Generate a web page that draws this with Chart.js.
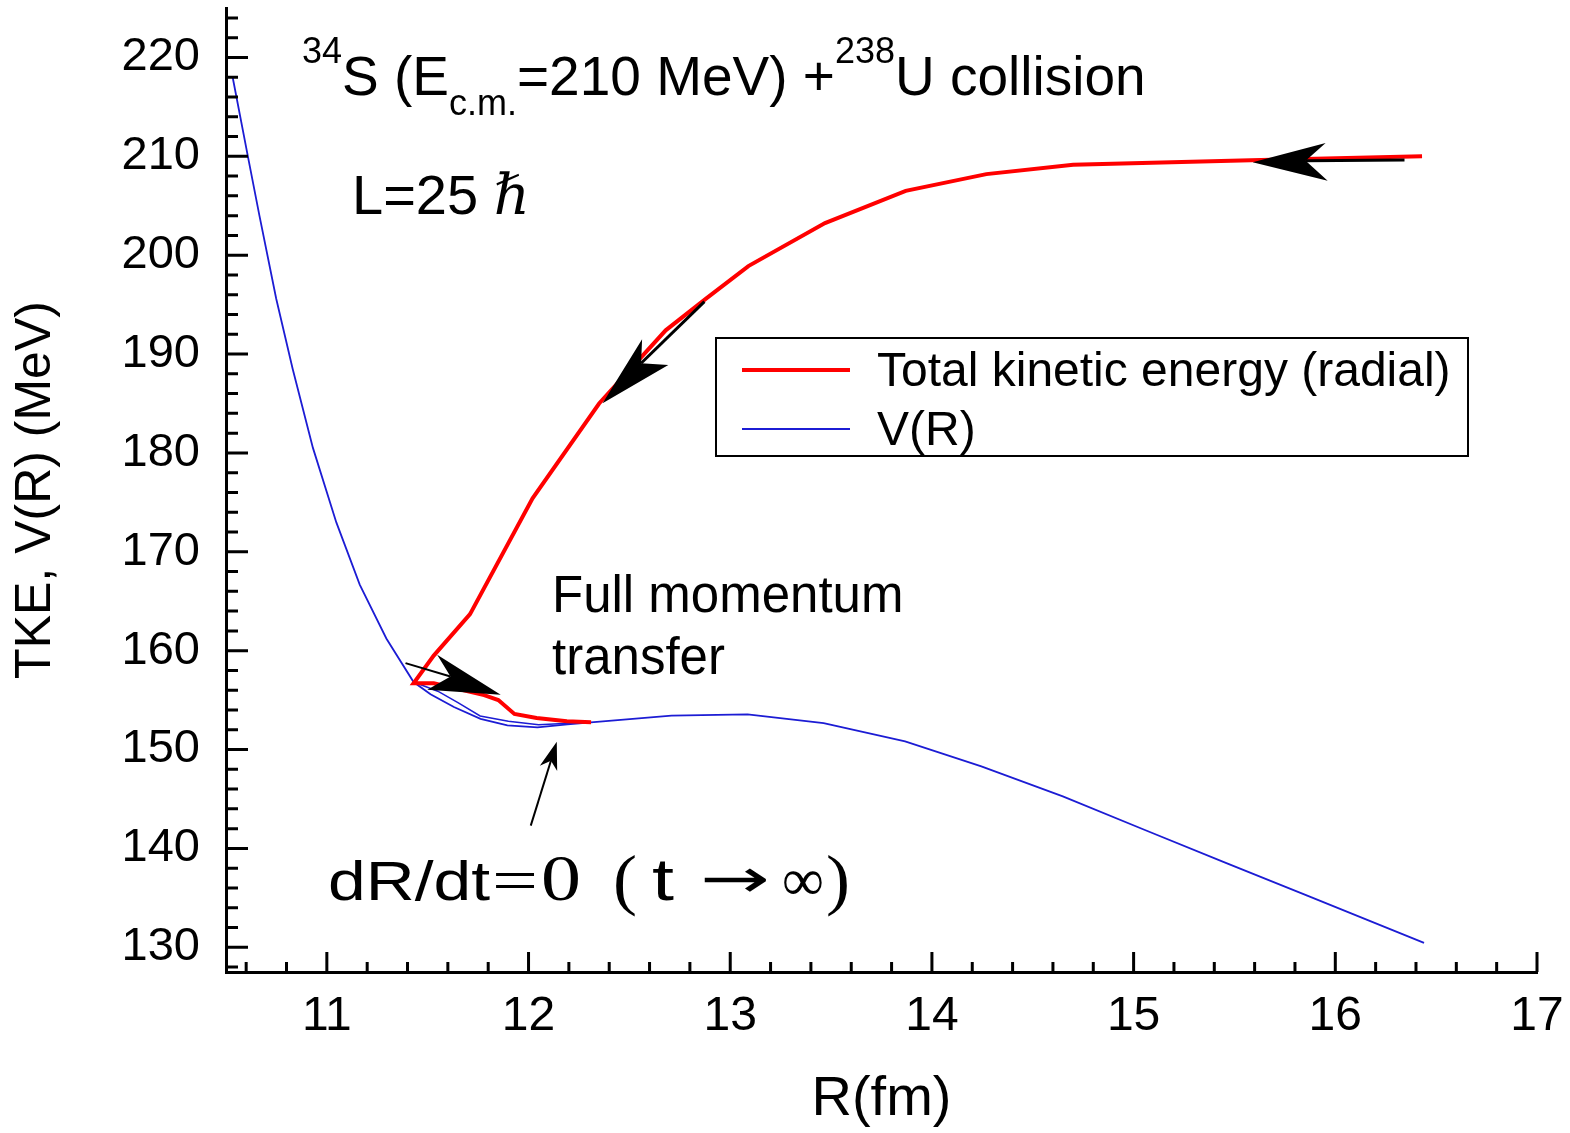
<!DOCTYPE html>
<html><head><meta charset="utf-8">
<script src="https://cdn.jsdelivr.net/npm/chart.js@4.4.1/dist/chart.umd.min.js"></script>
<style>html,body{margin:0;padding:0;background:#fff;}#wrap{width:1570px;height:1133px;}</style>
</head><body><div id="wrap"><canvas id="c" width="1570" height="1133"></canvas></div>
<script>
// ---- data ----
const seriesNames = ['Total kinetic energy (radial)', 'V(R)'];
const tkeR = [16.43, 15.58, 14.70, 14.27, 13.87, 13.47, 13.09, 12.88, 12.68, 12.35, 12.02, 11.71, 11.53, 11.43, 11.53, 11.78, 11.85, 11.93, 12.04, 12.19, 12.31];
const tkeE = [210.0, 209.6, 209.15, 208.2, 206.5, 203.25, 198.9, 195.6, 192.4, 185.0, 175.4, 163.7, 159.5, 156.7, 156.7, 155.5, 155.0, 153.6, 153.2, 152.85, 152.75];
const vR = [10.533, 10.608, 10.666, 10.749, 10.831, 10.931, 11.047, 11.163, 11.295, 11.43, 11.514, 11.63, 11.762, 11.895, 12.044, 12.193, 12.309, 12.709, 13.086, 13.463, 13.867, 14.245, 14.649, 15.053, 15.457, 15.861, 16.44];
const vE = [218.0, 210.05, 203.98, 195.59, 188.47, 180.51, 172.97, 166.68, 161.23, 156.83, 155.6, 154.3, 153.1, 152.45, 152.25, 152.55, 152.74, 153.42, 153.55, 152.68, 150.82, 148.29, 145.26, 141.89, 138.53, 135.22, 130.44];
const vBranchR = [11.43, 11.55, 11.65, 11.76, 11.90, 12.05, 12.20, 12.31];
const vBranchE = [156.83, 155.9, 154.75, 153.4, 152.85, 152.5, 152.65, 152.74];
const xTickLabels = [11, 12, 13, 14, 15, 16, 17];
const yTickLabels = [130, 140, 150, 160, 170, 180, 190, 200, 210, 220];

// ---- annotation arrows (data units) ----
const arrowList = [
  {tip:[15.590,209.39], b1:[15.952,211.34], notch:[15.853,209.55], b2:[15.962,207.53], tail:[16.343,209.62], w:3},
  {tip:[12.367,185.03], b1:[12.563,191.50], notch:[12.558,189.07], b2:[12.693,188.90], tail:[12.872,195.30], w:3},
  {tip:[11.862,155.54], b1:[11.547,159.58], notch:[11.613,157.39], b2:[11.498,156.05], tail:[11.390,158.74], w:2},
  {tip:[12.140,150.79], b1:[12.142,147.82], notch:[12.111,148.86], b2:[12.056,148.36], tail:[12.011,142.30], w:2}
];

const SANS = '"Liberation Sans", Arial, Helvetica, sans-serif';
const SERIF = '"Liberation Serif", "Times New Roman", "DejaVu Serif", serif';
const RED = '#ff0000', BLUE = '#1c1cd4';

function pts(xs, ys){ return xs.map((x,i)=>({x:x, y:ys[i]})); }

function drawRuns(ctx, x, y, runs){
  let cx = x;
  runs.forEach(r=>{
    ctx.font = r.font;
    ctx.fillText(r.t, cx, y + (r.dy||0));
    cx += ctx.measureText(r.t).width + (r.gap||0);
  });
  return cx;
}
// draw text placed at x, stretched/squeezed to a given width
function fitText(ctx, t, font, x, y, w){
  ctx.save();
  ctx.font = font;
  const nat = ctx.measureText(t).width;
  ctx.translate(x, y);
  ctx.scale(w / nat, 1);
  ctx.fillText(t, 0, 0);
  ctx.restore();
}

function zeroPad(s){ s.paddingTop = 0; s.paddingBottom = 0; s.paddingLeft = 0; s.paddingRight = 0; }

const annot = {
  id:'annot',
  afterDraw(chart){
    const ctx = chart.ctx, xs = chart.scales.x, ys = chart.scales.y;
    const area = chart.chartArea;
    ctx.save();
    // inward ticks
    ctx.strokeStyle = '#000'; ctx.lineWidth = 3; ctx.lineCap='butt';
    ctx.beginPath();
    for (let i = 53; i <= 85; i++) {
      const v = i/5; const px = xs.getPixelForValue(v);
      const major = (i % 5 === 0);
      ctx.moveTo(px, area.bottom); ctx.lineTo(px, area.bottom - (major ? 20 : 10));
    }
    for (let v = 128; v <= 224; v += 2) {
      const py = ys.getPixelForValue(v);
      const major = (v % 10 === 0);
      ctx.moveTo(area.left, py); ctx.lineTo(area.left + (major ? 22 : 12), py);
    }
    ctx.stroke();

    // arrows
    ctx.fillStyle = '#000';
    arrowList.forEach(a=>{
      const P = p => [xs.getPixelForValue(p[0]), ys.getPixelForValue(p[1])];
      const t = P(a.tip), b1 = P(a.b1), n = P(a.notch), b2 = P(a.b2), tl = P(a.tail);
      ctx.lineWidth = a.w;
      ctx.beginPath(); ctx.moveTo(tl[0], tl[1]); ctx.lineTo(n[0], n[1]); ctx.stroke();
      ctx.beginPath(); ctx.moveTo(t[0],t[1]); ctx.lineTo(b1[0],b1[1]); ctx.lineTo(n[0],n[1]); ctx.lineTo(b2[0],b2[1]); ctx.closePath(); ctx.fill();
    });

    // legend
    const lx = 716, ly = 338, lw = 752, lh = 118;
    ctx.lineWidth = 2; ctx.strokeStyle = '#000';
    ctx.strokeRect(lx, ly, lw, lh);
    const ds = chart.data.datasets;
    ctx.textBaseline = 'middle'; ctx.textAlign = 'left';
    [[0, 370, 4], [1, 429, 2]].forEach(([i, yy, w])=>{
      ctx.strokeStyle = ds[i].borderColor; ctx.lineWidth = w;
      ctx.beginPath(); ctx.moveTo(742, yy); ctx.lineTo(850, yy); ctx.stroke();
      ctx.fillStyle = '#000'; ctx.font = '48px ' + SANS;
      ctx.fillText(ds[i].label, 877, yy + 3);
    });

    // texts
    ctx.fillStyle = '#000'; ctx.textBaseline = 'alphabetic'; ctx.textAlign = 'left';
    const big = '55px ' + SANS, small = '36px ' + SANS;
    drawRuns(ctx, 302, 95, [
      {t:'34', font:small, dy:-32},
      {t:'S (E', font:big},
      {t:'c.m.', font:small, dy:20},
      {t:'=210 MeV) +', font:big},
      {t:'238', font:small, dy:-32},
      {t:'U collision', font:big}
    ]);
    drawRuns(ctx, 352, 214, [
      {t:'L=25 ', font:'56px ' + SANS},
      {t:'\u210F', font:'italic 56px ' + SERIF}
    ]);
    ctx.font = '51px ' + SANS;
    ctx.fillText('Full momentum', 552, 612);
    ctx.fillText('transfer', 552, 674);

    // dR/dt = 0 (t -> infinity)
    fitText(ctx, 'dR/dt', '56px ' + SANS, 328, 900, 162);
    fitText(ctx, '=', '60px ' + SERIF, 492, 900, 46);
    fitText(ctx, '0', '66px ' + SERIF, 541, 900, 40);
    fitText(ctx, '(', '68px ' + SERIF, 613, 902, 24);
    fitText(ctx, 't', '60px ' + SANS, 652, 900, 22);
    fitText(ctx, '\u2192', '54px "DejaVu Sans", ' + SERIF, 700, 897, 70);
    fitText(ctx, '\u221E', '60px ' + SERIF, 782, 900, 42);
    fitText(ctx, ')', '68px ' + SERIF, 826, 902, 24);

    ctx.restore();
  }
};

new Chart(document.getElementById('c'), {
  type:'scatter',
  data:{ datasets:[
    {label:seriesNames[0], data:pts(tkeR,tkeE), showLine:true, borderColor:RED, backgroundColor:RED, borderWidth:4, pointRadius:0, tension:0, fill:false},
    {label:seriesNames[1], data:pts(vR,vE), showLine:true, borderColor:BLUE, backgroundColor:BLUE, borderWidth:1.8, pointRadius:0, tension:0, fill:false},
    {label:'', data:pts(vBranchR,vBranchE), showLine:true, borderColor:BLUE, backgroundColor:BLUE, borderWidth:1.5, pointRadius:0, tension:0, fill:false}
  ]},
  options:{
    responsive:false, animation:false, devicePixelRatio:1,
    layout:{padding:{top:8, right:33, left:0, bottom:0}},
    plugins:{legend:{display:false}, tooltip:{enabled:false}},
    scales:{
      x:{type:'linear', min:10.5, max:17,
        afterFit(s){ s.height = 161; zeroPad(s); },
        afterBuildTicks(s){ s.ticks = xTickLabels.map(v=>({value:v})); },
        grid:{display:false, drawTicks:false},
        border:{display:true, width:3, color:'#000'},
        ticks:{font:{family:SANS, size:48}, color:'#000', padding:16, maxRotation:0, autoSkip:false},
        title:{display:true, text:'R(fm)', color:'#000', font:{family:SANS, size:56}, padding:{top:0, bottom:0}}
      },
      y:{type:'linear', min:127.5, max:225,
        afterFit(s){ s.width = 226; zeroPad(s); },
        afterBuildTicks(s){ s.ticks = yTickLabels.map(v=>({value:v})); },
        grid:{display:false, drawTicks:false},
        border:{display:true, width:3, color:'#000'},
        ticks:{font:{family:SANS, size:47}, color:'#000', padding:26, autoSkip:false},
        title:{display:true, text:'TKE, V(R) (MeV)', color:'#000', font:{family:SANS, size:50}, padding:{top:6, bottom:0}}
      }
    }
  },
  plugins:[annot]
});
</script></body></html>
